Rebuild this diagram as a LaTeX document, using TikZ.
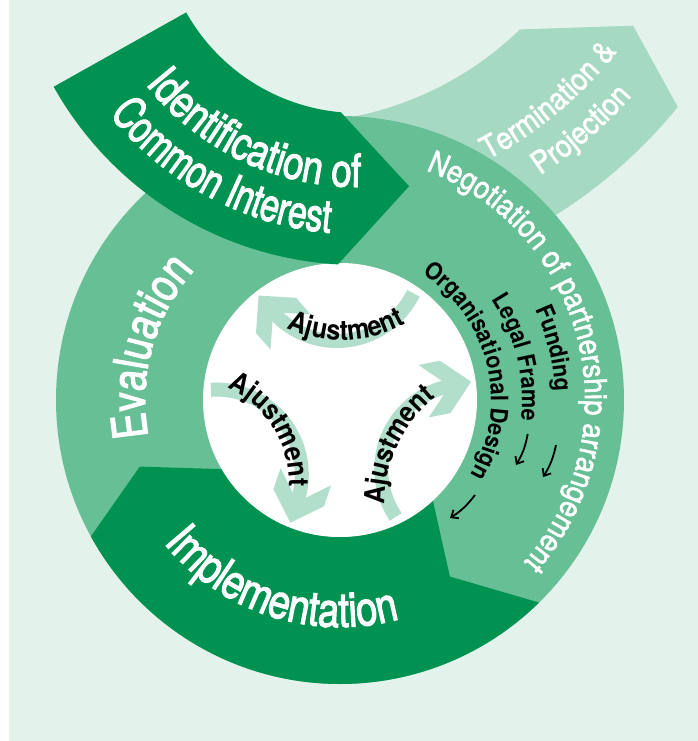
\documentclass[tikz,border=0pt]{standalone}
\usepackage{fontspec}
\setmainfont{TeX Gyre Heros}
\newfontfamily\condfont{TeX Gyre Heros}[FakeStretch=0.8,FakeBold=2.2]
\newfontfamily\narrowfont{TeX Gyre Heros}[FakeStretch=0.73,FakeBold=2.2]
\newfontfamily\midfont{TeX Gyre Heros}[FakeStretch=0.88,FakeBold=1.8]
\newfontfamily\blkfont{TeX Gyre Heros}[FakeStretch=0.9]
\usetikzlibrary{calc,decorations.text,arrows.meta}
\definecolor{bgc}{HTML}{E4F2EC}
\definecolor{darkg}{HTML}{009250}
\definecolor{midg}{HTML}{66BF95}
\definecolor{lightg}{HTML}{A6D9C1}
\definecolor{paleg}{HTML}{B2DFCB}
\newcommand\fsz[1]{\fontsize{#1}{#1}\selectfont}
\tikzset{
  whitetext/.style={decorate, decoration={text along path, text align=center, text color=white, text={#1}}},
  blacktext/.style={decorate, decoration={text along path, text align=center, text color=black, text={#1}}},
  smallarr/.style={-{Straight Barb[length=6pt,width=10pt]}, line width=1.8pt, black},
  band/.style={paleg, line width=14pt}
}
\begin{document}
\begin{tikzpicture}[x=1pt,y=-1pt]
\useasboundingbox (0,0) rectangle (698,741);
\fill[bgc] (9,0) rectangle (698,741);
\coordinate (O) at (340,400);
\coordinate (Ci) at (358,-84);
\coordinate (Ct) at (289,-209);
\coordinate (T1) at (342,209);
\coordinate (T2) at (185,483);
\coordinate (T3) at (520,503);

% Termination & Projection (behind ring)
\fill[lightg] ($(Ct)+(95:332)$) arc[start angle=95, end angle=45.9, radius=332]
  -- ($(Ct)+(34.3:416.5)$) -- ($(Ct)+(39.1:501)$)
  arc[start angle=39.1, end angle=75, radius=501] -- (300,200) -- cycle;

% ring
\fill[midg] (O) circle[radius=284];

% Implementation
\fill[darkg] ($(O)+(45.5:284)$) arc[start angle=45.5, end angle=151.3, radius=284]
  -- ($(O)+(161.6:211)$) -- ($(O)+(149.7:137)$)
  arc[start angle=149.7, end angle=47.3, radius=137]
  -- ($(O)+(58.1:208)$) -- cycle;

% inner circle
\fill[white] (O) circle[radius=137];

% Ajustment arrows
\foreach \rot in {0,120,-120}{
  \begin{scope}[rotate around={\rot:(340,400)}]
    \draw[band] (337,256) ++(26:85) arc[start angle=26, end angle=138.7, radius=85];
    \fill[paleg] (273.1,312.1) -- +(93.91:37.62) -- +(129.13:27.08) -- +(228.7:22)
      -- +(328.27:27.08) -- +(3.49:37.62) -- cycle;
  \end{scope}
}

% Identification
\fill[darkg] ($(Ci)+(150.7:197)$) arc[start angle=150.7, end angle=95, radius=197]
  -- ($(Ci)+(79.3:275)$) -- ($(Ci)+(93.3:349)$)
  arc[start angle=93.3, end angle=150.7, radius=349] -- cycle;

% texts
\path[whitetext={|\condfont\fsz{46}|Identification of}] (Ci) ++(175.5:271) arc[start angle=175.5, end angle=55.5, radius=271];
\path[whitetext={|\narrowfont\fsz{46}|Common Interest}] (Ci) ++(178.25:318) arc[start angle=178.25, end angle=58.25, radius=318];
\path[whitetext={|\midfont\fsz{31}|Termination {\&}}] (Ct) ++(80.05:419) arc[start angle=80.05, end angle=20.05, radius=419];
\path[whitetext={|\midfont\fsz{31}|Projection}] (Ct) ++(79.25:459) arc[start angle=79.25, end angle=19.25, radius=459];
\path[whitetext={|\midfont\fsz{31}|Negotiation of partnership arrangement}] (O) ++(-94:245) arc[start angle=-94, end angle=66, radius=245];
\path[whitetext={|\condfont\fsz{48}|Implementation}] (O) ++(175:227) arc[start angle=175, end angle=40.7, radius=227];
\path[whitetext={|\condfont\fsz{48}|Evaluation}] (O) ++(135.5:195) arc[start angle=135.5, end angle=255.5, radius=195];

\path[blacktext={|\blkfont\bfseries\fsz{24}|Funding}] (O) ++(-53.5:215) arc[start angle=-53.5, end angle=26.5, radius=215];
\path[blacktext={|\blkfont\bfseries\fsz{24}|Legal Frame}] (O) ++(-58.5:182) arc[start angle=-58.5, end angle=31.5, radius=182];
\path[blacktext={|\blkfont\bfseries\fsz{24}|Organisational Design}] (O) ++(-83.5:151) arc[start angle=-83.5, end angle=56.5, radius=151];

\path[blacktext={|\blkfont\bfseries\fsz{28}|Ajustment}] (T1) ++(147.9:131) arc[start angle=147.9, end angle=27.9, radius=131];
\path[blacktext={|\blkfont\bfseries\fsz{28}|Ajustment}] (T2) ++(-92:104) arc[start angle=-92, end angle=28, radius=104];
\path[blacktext={|\blkfont\bfseries\fsz{28}|Ajustment}] (T3) ++(150.4:135) arc[start angle=150.4, end angle=260.4, radius=135];

% small arrows
\coordinate (fa1) at (556,445);
\coordinate (fa2) at (543,477);
\coordinate (la1) at (527.7,434);
\coordinate (la2) at (516,465);
\coordinate (oa1) at (475,495);
\coordinate (oa2) at (450,518);
\draw[smallarr] (fa1) to[bend left=10] (fa2);
\draw[smallarr] (la1) to[bend left=10] (la2);
\draw[smallarr] (oa1) to[bend left=10] (oa2);
\end{tikzpicture}
\end{document}
